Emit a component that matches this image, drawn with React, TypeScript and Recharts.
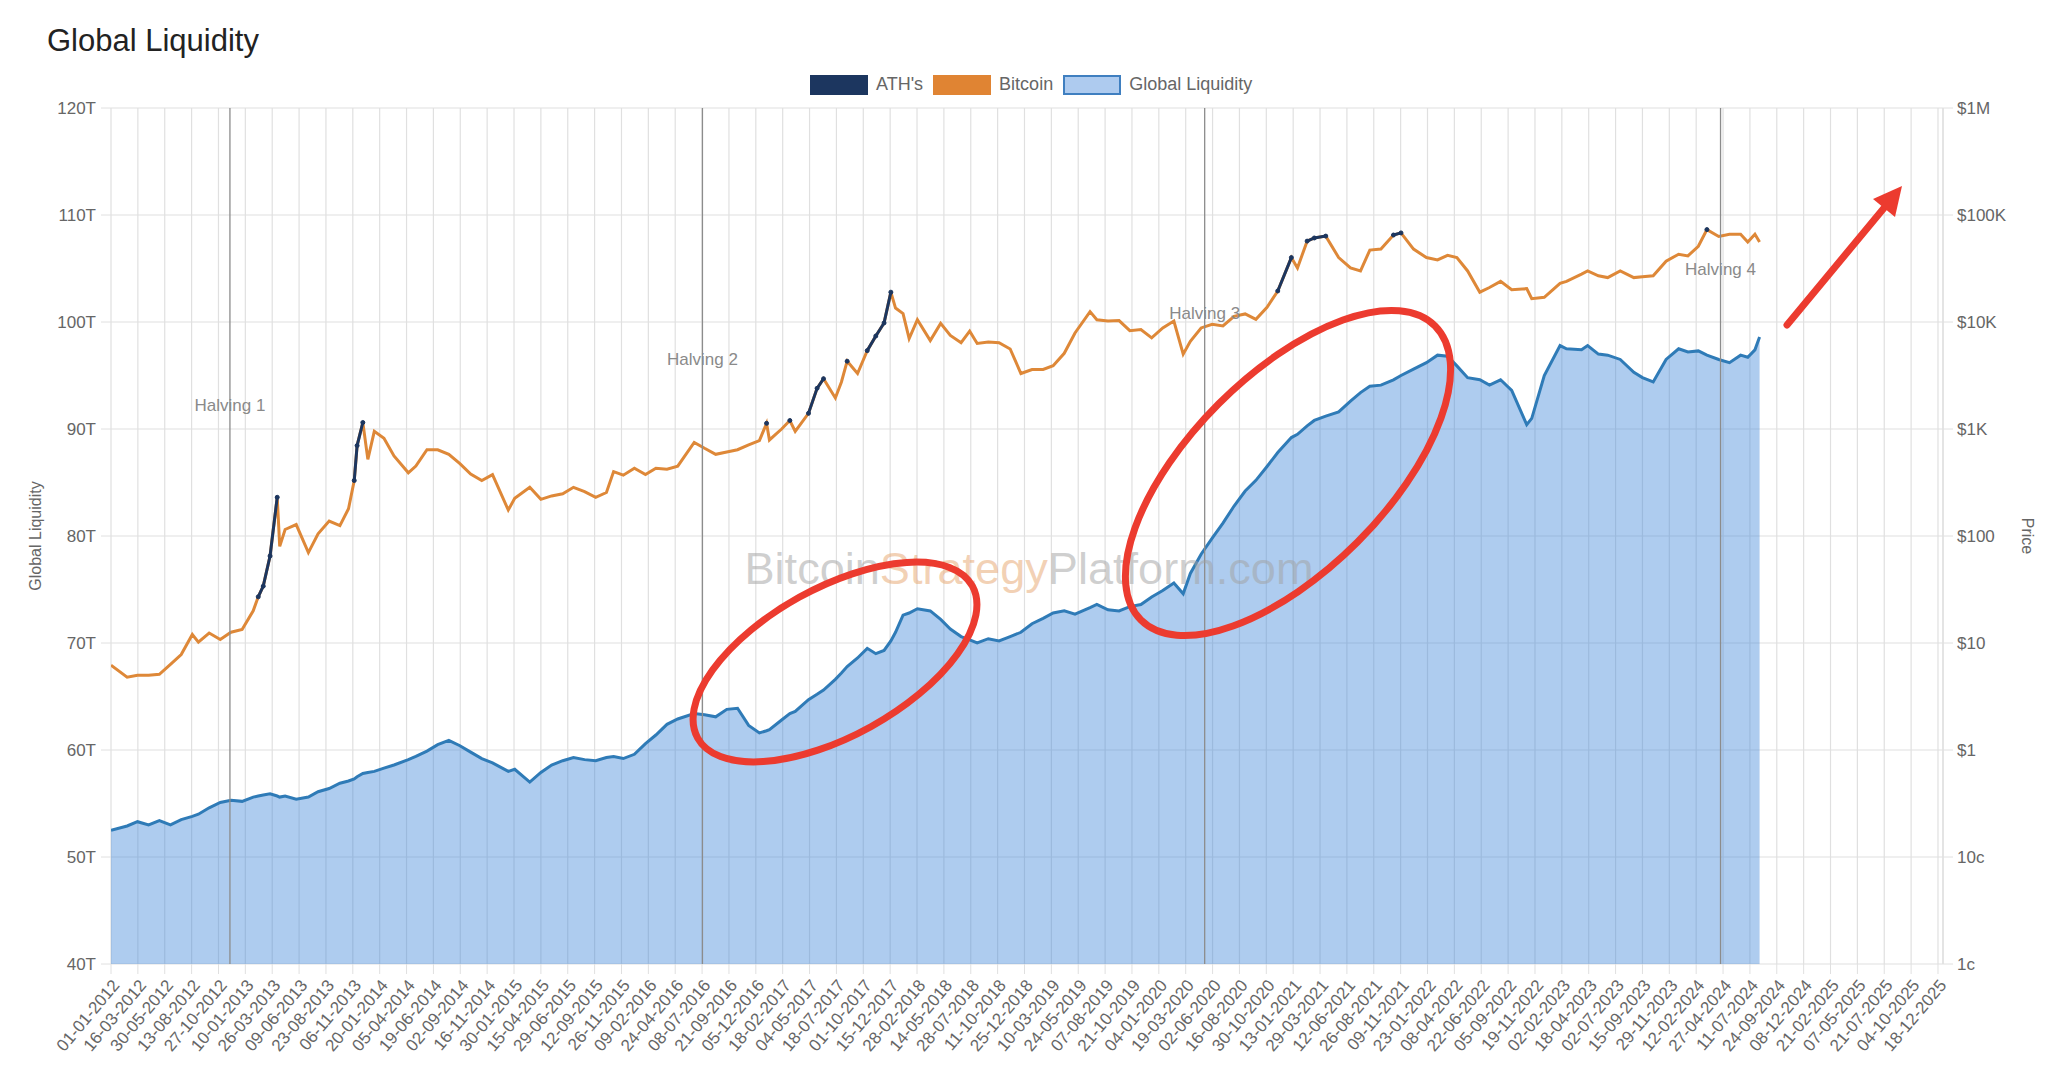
import React from "react";
import {
  ComposedChart,
  Area,
  Line,
  XAxis,
  YAxis,
  CartesianGrid,
  ReferenceLine,
  ReferenceDot,
} from "recharts";

// sample dates (ISO)
const SAMPLE_DATES = [
  "2012-01-01", "2012-02-15", "2012-03-15", "2012-04-15", "2012-05-15", "2012-06-15",
  "2012-07-15", "2012-08-15", "2012-09-01", "2012-10-01", "2012-11-01", "2012-12-01",
  "2013-01-01", "2013-02-01", "2013-02-15", "2013-03-01", "2013-03-20", "2013-04-09",
  "2013-04-16", "2013-05-01", "2013-06-01", "2013-07-05", "2013-08-01", "2013-09-01",
  "2013-10-01", "2013-10-25", "2013-11-10", "2013-11-18", "2013-12-04", "2013-12-18",
  "2014-01-05", "2014-02-01", "2014-03-01", "2014-04-10", "2014-05-01", "2014-06-01",
  "2014-07-01", "2014-08-01", "2014-09-01", "2014-10-01", "2014-11-01", "2014-12-01",
  "2015-01-14", "2015-02-01", "2015-03-15", "2015-04-15", "2015-05-15", "2015-06-15",
  "2015-07-15", "2015-08-15", "2015-09-15", "2015-10-15", "2015-11-04", "2015-12-01",
  "2016-01-01", "2016-02-01", "2016-03-01", "2016-04-01", "2016-05-01", "2016-06-16",
  "2016-07-15", "2016-08-15", "2016-09-15", "2016-10-15", "2016-11-15", "2016-12-15",
  "2017-01-04", "2017-01-12", "2017-02-15", "2017-03-10", "2017-03-25", "2017-05-01",
  "2017-05-25", "2017-06-12", "2017-07-15", "2017-08-01", "2017-08-17", "2017-09-15",
  "2017-10-12", "2017-11-05", "2017-11-28", "2017-12-17", "2017-12-30", "2018-01-20",
  "2018-02-06", "2018-03-01", "2018-04-06", "2018-05-05", "2018-06-01", "2018-07-01",
  "2018-07-25", "2018-08-15", "2018-09-15", "2018-10-15", "2018-11-15", "2018-12-15",
  "2019-01-15", "2019-02-15", "2019-03-15", "2019-04-15", "2019-05-15", "2019-06-26",
  "2019-07-15", "2019-08-15", "2019-09-15", "2019-10-15", "2019-11-15", "2019-12-15",
  "2020-01-15", "2020-02-15", "2020-03-12", "2020-04-01", "2020-05-01", "2020-06-01",
  "2020-07-01", "2020-08-01", "2020-09-01", "2020-10-01", "2020-11-01", "2020-12-01",
  "2021-01-08", "2021-01-25", "2021-02-21", "2021-03-13", "2021-04-14", "2021-05-20",
  "2021-06-22", "2021-07-20", "2021-08-15", "2021-09-15", "2021-10-20", "2021-11-10",
  "2021-12-15", "2022-01-20", "2022-02-20", "2022-03-20", "2022-04-15", "2022-05-15",
  "2022-06-18", "2022-07-15", "2022-08-15", "2022-09-15", "2022-10-27", "2022-11-10",
  "2022-12-15", "2023-01-28", "2023-02-15", "2023-03-29", "2023-04-15", "2023-05-15",
  "2023-06-10", "2023-07-15", "2023-08-22", "2023-09-15", "2023-10-15", "2023-11-20",
  "2023-12-25", "2024-01-20", "2024-02-18", "2024-03-13", "2024-04-15", "2024-05-15",
  "2024-06-15", "2024-07-05", "2024-07-25", "2024-08-07",
];

// global liquidity, trillions USD
const LIQUIDITY_T = [
  52.5, 52.9, 53.3, 53.0, 53.4, 53.0,
  53.5, 53.8, 54.0, 54.6, 55.1, 55.3,
  55.2, 55.6, 55.7, 55.8, 55.9, 55.7,
  55.6, 55.7, 55.4, 55.6, 56.1, 56.4,
  56.9, 57.1, 57.3, 57.5, 57.8, 57.9,
  58.0, 58.3, 58.6, 59.1, 59.4, 59.9,
  60.5, 60.9, 60.4, 59.8, 59.2, 58.8,
  58.0, 58.2, 57.0, 57.9, 58.6, 59.0,
  59.3, 59.1, 59.0, 59.3, 59.4, 59.2,
  59.6, 60.6, 61.4, 62.4, 62.9, 63.4,
  63.3, 63.1, 63.8, 63.9, 62.3, 61.6,
  61.8, 61.9, 62.8, 63.4, 63.6, 64.7,
  65.2, 65.6, 66.6, 67.2, 67.8, 68.6,
  69.5, 69.0, 69.3, 70.2, 71.0, 72.6,
  72.8, 73.2, 73.0, 72.2, 71.3, 70.6,
  70.3, 70.0, 70.4, 70.2, 70.6, 71.0,
  71.8, 72.3, 72.8, 73.0, 72.7, 73.3,
  73.6, 73.1, 73.0, 73.4, 73.6, 74.3,
  74.9, 75.6, 74.6, 76.5, 78.3, 79.8,
  81.2, 82.8, 84.2, 85.2, 86.5, 87.8,
  89.2, 89.5, 90.3, 90.8, 91.2, 91.6,
  92.6, 93.4, 94.0, 94.1, 94.6, 95.0,
  95.6, 96.2, 96.9, 96.8, 95.9, 94.8,
  94.6, 94.1, 94.6, 93.6, 90.4, 91.0,
  95.0, 97.8, 97.5, 97.4, 97.8, 97.0,
  96.9, 96.5, 95.3, 94.8, 94.4, 96.5,
  97.5, 97.2, 97.3, 96.9, 96.5, 96.2,
  96.9, 96.7, 97.4, 98.6,
];

// bitcoin price, USD
const BITCOIN_USD = [
  6.2, 4.8, 5.0, 5.0, 5.1, 6.3,
  7.8, 12.0, 10.2, 12.4, 10.8, 12.6,
  13.4, 20, 27, 34, 65, 230,
  80, 115, 128, 70, 105, 138,
  125, 180, 330, 700, 1150, 520,
  950, 820, 560, 390, 450, 640,
  640, 580, 475, 380, 330, 375,
  175, 225, 285, 220, 237, 248,
  285, 260, 230, 255, 400, 370,
  430, 375, 430, 420, 450, 750,
  660, 580, 610, 640, 710, 780,
  1130, 790, 1000, 1200, 950, 1400,
  2400, 2950, 1950, 2750, 4300, 3300,
  5400, 7400, 9800, 19000, 13500, 12000,
  7000, 10500, 6700, 9700, 7500, 6400,
  8200, 6300, 6500, 6400, 5600, 3300,
  3600, 3600, 3900, 5100, 7900, 12500,
  10500, 10200, 10300, 8300, 8500, 7100,
  8800, 10200, 5000, 6600, 8800, 9500,
  9200, 11300, 11900, 10600, 13700, 19500,
  40000, 32000, 57000, 61000, 63500, 40000,
  32000, 30000, 47000, 48000, 65000, 68000,
  48000, 40000, 38000, 42000, 40000, 30000,
  19000, 21000, 24000, 20000, 20500, 16500,
  17000, 23000, 24000, 28000, 30000, 27000,
  26000, 30000, 26000, 26500, 27000, 37000,
  43000, 41500, 51000, 73000, 63000, 66000,
  66000, 56000, 66000, 56000,
];

// samples where bitcoin printed an all-time high
const ATH_DATES = [
  "2013-02-15", "2013-03-01", "2013-03-20", "2013-04-09",
  "2013-11-10", "2013-11-18", "2013-12-04",
  "2017-01-04", "2017-03-10", "2017-05-01", "2017-05-25", "2017-06-12",
  "2017-08-17", "2017-10-12", "2017-11-05", "2017-11-28", "2017-12-17",
  "2020-12-01", "2021-01-08", "2021-02-21", "2021-03-13", "2021-04-14",
  "2021-10-20", "2021-11-10", "2024-03-13",
];

const X_TICK_LABELS = [
  "01-01-2012", "16-03-2012", "30-05-2012", "13-08-2012", "27-10-2012", "10-01-2013",
  "26-03-2013", "09-06-2013", "23-08-2013", "06-11-2013", "20-01-2014", "05-04-2014",
  "19-06-2014", "02-09-2014", "16-11-2014", "30-01-2015", "15-04-2015", "29-06-2015",
  "12-09-2015", "26-11-2015", "09-02-2016", "24-04-2016", "08-07-2016", "21-09-2016",
  "05-12-2016", "18-02-2017", "04-05-2017", "18-07-2017", "01-10-2017", "15-12-2017",
  "28-02-2018", "14-05-2018", "28-07-2018", "11-10-2018", "25-12-2018", "10-03-2019",
  "24-05-2019", "07-08-2019", "21-10-2019", "04-01-2020", "19-03-2020", "02-06-2020",
  "16-08-2020", "30-10-2020", "13-01-2021", "29-03-2021", "12-06-2021", "26-08-2021",
  "09-11-2021", "23-01-2022", "08-04-2022", "22-06-2022", "05-09-2022", "19-11-2022",
  "02-02-2023", "18-04-2023", "02-07-2023", "15-09-2023", "29-11-2023", "12-02-2024",
  "27-04-2024", "11-07-2024", "24-09-2024", "08-12-2024", "21-02-2025", "07-05-2025",
  "21-07-2025", "04-10-2025", "18-12-2025",
];

const LEFT_TICKS = [40, 50, 60, 70, 80, 90, 100, 110, 120];
const RIGHT_TICKS = [0.01, 0.1, 1, 10, 100, 1000, 10000, 100000, 1000000];
const RIGHT_TICK_LABELS = ["1c", "10c", "$1", "$10", "$100", "$1K", "$10K", "$100K", "$1M"];

const HALVING_DATES = ["2012-11-28", "2016-07-09", "2020-05-11", "2024-04-20"];
const HALVING_NAMES = ["Halving 1", "Halving 2", "Halving 3", "Halving 4"];
const HALVING_LABEL_LEVEL = [92.2, 96.5, 100.8, 105.0];

const X_START = "2012-01-01";
const X_END = "2026-01-01";

const NAVY = "#1c365f";
const ORANGE = "#de8838";
const BLUE = "#2f7bb7";
const GRID = "#e0e0e0";
const FONT = "'Liberation Sans', Arial, Helvetica, sans-serif";

const parseTick = (s: string) => {
  const [d, m, y] = s.split("-").map(Number);
  return Date.UTC(y, m - 1, d);
};

const athSet = new Set(ATH_DATES);
const data = SAMPLE_DATES.map((d, i) => ({
  t: Date.parse(d),
  liq: LIQUIDITY_T[i],
  btc: BITCOIN_USD[i],
  ath: athSet.has(d) ? BITCOIN_USD[i] : null,
}));

const xTicks = X_TICK_LABELS.map(parseTick);
const tickLabelByTime = new Map(xTicks.map((t, i) => [t, X_TICK_LABELS[i]]));

const tickStyle = { fill: "#666", fontSize: 17, fontFamily: FONT };

function LegendBox({ fill, border }: { fill: string; border: string }) {
  return (
    <span
      style={{
        display: "inline-block",
        width: 58,
        height: 20,
        boxSizing: "border-box",
        background: fill,
        border: `2px solid ${border}`,
        marginRight: 8,
      }}
    />
  );
}

export default function App() {
  const legendItems = [
    { name: "ATH's", fill: NAVY, border: NAVY },
    { name: "Bitcoin", fill: "#e08433", border: "#e08433" },
    { name: "Global Liquidity", fill: "#aecbef", border: "#3f7fc0" },
  ];

  return (
    <div
      style={{
        position: "absolute",
        left: 0,
        top: 0,
        width: 2048,
        height: 1086,
        overflow: "hidden",
        background: "#fff",
        fontFamily: FONT,
      }}
    >
      <div
        style={{
          position: "absolute",
          left: 47,
          top: 25,
          fontSize: 31,
          lineHeight: "31px",
          color: "#222",
        }}
      >
        Global Liquidity
      </div>

      <div
        style={{
          position: "absolute",
          left: 810,
          top: 74,
          height: 21,
          display: "flex",
          alignItems: "center",
          fontSize: 18,
          color: "#666",
        }}
      >
        {legendItems.map((it) => (
          <span key={it.name} style={{ display: "flex", alignItems: "center", marginRight: 10 }}>
            <LegendBox fill={it.fill} border={it.border} />
            {it.name}
          </span>
        ))}
      </div>

      <ComposedChart
        width={2048}
        height={1086}
        data={data}
        margin={{ top: 108, right: 0, bottom: 0, left: 0 }}
      >
        <CartesianGrid yAxisId="left" stroke={GRID} strokeWidth={1.2} />
        <XAxis
          dataKey="t"
          type="number"
          domain={[Date.parse(X_START), Date.parse(X_END)]}
          allowDataOverflow
          ticks={xTicks}
          interval={0}
          tickFormatter={(v: number) => tickLabelByTime.get(v) ?? ""}
          angle={-50}
          tick={{ ...tickStyle, textAnchor: "end" }}
          tickSize={10}
          tickMargin={4}
          tickLine={{ stroke: GRID }}
          axisLine={false}
          height={122}
        />
        <YAxis
          yAxisId="left"
          domain={[40, 120]}
          ticks={LEFT_TICKS}
          allowDataOverflow
          tickFormatter={(v: number) => `${v}T`}
          tick={tickStyle}
          tickSize={10}
          tickMargin={5}
          tickLine={{ stroke: GRID }}
          axisLine={false}
          width={111}
          label={{
            value: "Global Liquidity",
            angle: -90,
            position: "insideLeft",
            offset: 35,
            textAnchor: "middle",
            style: { textAnchor: "middle", fill: "#666", fontSize: 16, fontFamily: FONT },
          }}
        />
        <YAxis
          yAxisId="right"
          orientation="right"
          scale="log"
          domain={[0.01, 1000000]}
          ticks={RIGHT_TICKS}
          allowDataOverflow
          tickFormatter={(v: number) => RIGHT_TICK_LABELS[RIGHT_TICKS.indexOf(v)] ?? ""}
          tick={tickStyle}
          tickSize={10}
          tickMargin={4}
          tickLine={{ stroke: GRID }}
          axisLine={false}
          width={105}
          label={{
            value: "Price",
            angle: 90,
            position: "insideRight",
            offset: 20,
            textAnchor: "middle",
            style: { textAnchor: "middle", fill: "#666", fontSize: 16, fontFamily: FONT },
          }}
        />
        <ReferenceLine yAxisId="left" x={Date.parse(X_END)} stroke={GRID} strokeWidth={1.2} />
        <Area
          yAxisId="left"
          type="linear"
          dataKey="liq"
          stroke={BLUE}
          strokeWidth={3}
          fill="#3d85d8"
          fillOpacity={0.42}
          dot={false}
          activeDot={false}
          isAnimationActive={false}
        />
        <Line
          yAxisId="right"
          type="linear"
          dataKey="btc"
          stroke={ORANGE}
          strokeWidth={3}
          dot={false}
          activeDot={false}
          isAnimationActive={false}
        />
        <Line
          yAxisId="right"
          type="linear"
          dataKey="ath"
          stroke={NAVY}
          strokeWidth={3}
          dot={{ r: 2, fill: NAVY, stroke: NAVY, strokeWidth: 1 }}
          activeDot={false}
          connectNulls={false}
          isAnimationActive={false}
        />
        {HALVING_DATES.map((d) => (
          <ReferenceLine
            key={d}
            yAxisId="left"
            x={Date.parse(d)}
            stroke="#8c8c8c"
            strokeWidth={1.3}
          />
        ))}
        {HALVING_DATES.map((d, i) => (
          <ReferenceDot
            key={`lbl-${d}`}
            yAxisId="left"
            x={Date.parse(d)}
            y={HALVING_LABEL_LEVEL[i]}
            r={1}
            fill="none"
            stroke="none"
            label={{
              value: HALVING_NAMES[i],
              position: "center",
              fill: "#8a8a8a",
              fontSize: 17,
              fontFamily: FONT,
            }}
          />
        ))}
      </ComposedChart>

      <svg
        width={2048}
        height={1086}
        style={{ position: "absolute", left: 0, top: 0, pointerEvents: "none" }}
      >
        <text
          x={1029}
          y={584}
          textAnchor="middle"
          fontSize={44}
          fontFamily={FONT}
          textLength={569}
          lengthAdjust="spacingAndGlyphs"
          fill="#a0a0a0"
          fillOpacity={0.5}
        >
          Bitcoin
          <tspan fill="#e6a36c">Strategy</tspan>
          Platform.com
        </text>
        <ellipse
          cx={835}
          cy={662}
          rx={157}
          ry={74}
          transform="rotate(-29 835 662)"
          fill="none"
          stroke="#ec3b2f"
          strokeWidth={7}
        />
        <ellipse
          cx={1288}
          cy={473}
          rx={208}
          ry={98}
          transform="rotate(-45 1288 473)"
          fill="none"
          stroke="#ec3b2f"
          strokeWidth={7}
        />
        <line x1={1787} y1={325} x2={1884} y2={208} stroke="#ec3b2f" strokeWidth={7} strokeLinecap="round" />
        <polygon points="1902,186 1895,217 1873,199" fill="#ec3b2f" />
      </svg>
    </div>
  );
}
